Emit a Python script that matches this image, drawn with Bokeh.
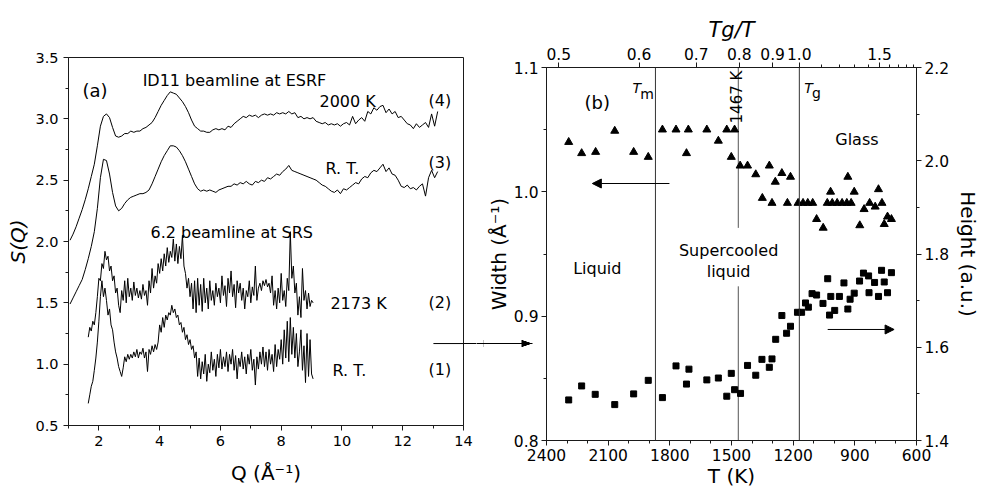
from bokeh.plotting import figure
from bokeh.models import (Range1d, LinearAxis, FixedTicker, CustomJSTickFormatter,
                          NumeralTickFormatter, Label, Arrow, NormalHead, Span)
from bokeh.layouts import row, column
from bokeh.embed import file_html
from bokeh.resources import INLINE

FONT = "DejaVu Sans"
INK = "#1a1a1a"

# ---------------- panel (a): S(Q) ----------------
q_esrf = [1.05, 1.15, 1.25, 1.35, 1.45, 1.55, 1.65, 1.75, 1.85, 1.95,
          2.05, 2.15, 2.25, 2.35, 2.45, 2.55, 2.65, 2.75, 2.85, 2.95,
          3.05, 3.15, 3.25, 3.35, 3.45, 3.55, 3.65, 3.75, 3.85, 3.95,
          4.05, 4.15, 4.25, 4.35, 4.45, 4.55, 4.65, 4.75, 4.85, 4.95,
          5.05, 5.15, 5.25, 5.35, 5.45, 5.55, 5.65, 5.75, 5.85, 5.95,
          6.05, 6.15, 6.25, 6.35, 6.45, 6.55, 6.65, 6.75, 6.85, 6.95,
          7.05, 7.15, 7.25, 7.35, 7.45, 7.55, 7.65, 7.75, 7.85, 7.95,
          8.05, 8.15, 8.25, 8.35, 8.45, 8.55, 8.65, 8.75, 8.85, 8.95,
          9.05, 9.15, 9.25, 9.35, 9.45, 9.55, 9.65, 9.75, 9.85, 9.95,
          10.05, 10.15, 10.25, 10.35, 10.45, 10.55, 10.65, 10.75, 10.85, 10.95,
          11.05, 11.15, 11.25, 11.35, 11.45, 11.55, 11.65, 11.75, 11.85, 11.95,
          12.05, 12.15, 12.25, 12.35, 12.45, 12.55, 12.65, 12.75, 12.85, 12.95,
          13.05, 13.15]

s_esrf_2000K = [2.01, 2.06, 2.12, 2.19, 2.26, 2.34, 2.43, 2.53, 2.63, 2.78,
                2.94, 3.02, 3.04, 3.01, 2.93, 2.86, 2.85, 2.86, 2.88, 2.88,
                2.90, 2.89, 2.90, 2.90, 2.92, 2.93, 2.95, 2.97, 3.01, 3.06,
                3.11, 3.15, 3.19, 3.22, 3.21, 3.20, 3.17, 3.14, 3.10, 3.05,
                2.99, 2.94, 2.92, 2.90, 2.90, 2.89, 2.89, 2.91, 2.92, 2.91,
                2.92, 2.91, 2.94, 2.93, 2.96, 2.98, 3.00, 3.02, 3.01, 3.03,
                3.02, 3.03, 3.01, 3.03, 3.04, 3.03, 3.04, 3.03, 3.05, 3.04,
                3.05, 3.04, 3.06, 3.04, 3.05, 3.01, 3.02, 3.00, 3.01, 3.00,
                3.01, 2.98, 2.97, 2.96, 2.97, 2.95, 2.96, 2.95, 2.96, 2.94,
                2.96, 2.97, 2.95, 3.02, 2.96, 2.99, 3.01, 2.98, 3.06, 3.04,
                3.09, 3.07, 3.10, 3.11, 3.05, 3.08, 3.04, 3.06, 3.01, 3.02,
                2.99, 2.96, 2.95, 2.92, 2.96, 2.93, 2.95, 2.97, 2.93, 3.04,
                2.94, 3.06]

s_esrf_rt = [1.49, 1.54, 1.59, 1.64, 1.69, 1.77, 1.86, 1.96, 2.08, 2.27,
             2.52, 2.67, 2.66, 2.55, 2.40, 2.29, 2.25, 2.27, 2.31, 2.34,
             2.36, 2.37, 2.38, 2.39, 2.39, 2.40, 2.42, 2.47, 2.53, 2.59,
             2.65, 2.70, 2.74, 2.78, 2.78, 2.77, 2.74, 2.70, 2.65, 2.59,
             2.53, 2.47, 2.43, 2.41, 2.42, 2.41, 2.42, 2.41, 2.40, 2.42,
             2.43, 2.44, 2.45, 2.45, 2.47, 2.46, 2.48, 2.47, 2.49, 2.47,
             2.46, 2.49, 2.48, 2.50, 2.49, 2.52, 2.51, 2.53, 2.55, 2.54,
             2.57, 2.59, 2.62, 2.58, 2.57, 2.56, 2.55, 2.54, 2.53, 2.52,
             2.51, 2.50, 2.48, 2.46, 2.45, 2.43, 2.41, 2.40, 2.42, 2.39,
             2.43, 2.42, 2.44, 2.46, 2.48, 2.47, 2.51, 2.53, 2.52, 2.56,
             2.58, 2.57, 2.60, 2.63, 2.57, 2.60, 2.55, 2.54, 2.50, 2.45,
             2.44, 2.46, 2.43, 2.44, 2.42, 2.45, 2.47, 2.37, 2.52, 2.58,
             2.52, 2.57]

q_srs = [1.65, 1.70, 1.75, 1.80, 1.85, 1.90, 1.95, 2.00, 2.05, 2.10,
         2.15, 2.20, 2.25, 2.30, 2.35, 2.40, 2.45, 2.50, 2.55, 2.60,
         2.65, 2.70, 2.75, 2.80, 2.85, 2.90, 2.95, 3.00, 3.05, 3.10,
         3.15, 3.20, 3.25, 3.30, 3.35, 3.40, 3.45, 3.50, 3.55, 3.60,
         3.65, 3.70, 3.75, 3.80, 3.85, 3.90, 3.95, 4.00, 4.05, 4.10,
         4.15, 4.20, 4.25, 4.30, 4.35, 4.40, 4.45, 4.50, 4.55, 4.60,
         4.65, 4.70, 4.75, 4.80, 4.85, 4.90, 4.95, 5.00, 5.05, 5.10,
         5.15, 5.20, 5.25, 5.30, 5.35, 5.40, 5.45, 5.50, 5.55, 5.60,
         5.65, 5.70, 5.75, 5.80, 5.85, 5.90, 5.95, 6.00, 6.05, 6.10,
         6.15, 6.20, 6.25, 6.30, 6.35, 6.40, 6.45, 6.50, 6.55, 6.60,
         6.65, 6.70, 6.75, 6.80, 6.85, 6.90, 6.95, 7.00, 7.05, 7.10,
         7.15, 7.20, 7.25, 7.30, 7.35, 7.40, 7.45, 7.50, 7.55, 7.60,
         7.65, 7.70, 7.75, 7.80, 7.85, 7.90, 7.95, 8.00, 8.05, 8.10,
         8.15, 8.20, 8.25, 8.30, 8.35, 8.40, 8.45, 8.50, 8.55, 8.60,
         8.65, 8.70, 8.75, 8.80, 8.85, 8.90, 8.95, 9.00, 9.05]

s_srs_2173K = [1.22, 1.30, 1.27, 1.35, 1.32, 1.42, 1.55, 1.70, 1.68, 1.82,
               1.78, 1.92, 1.85, 1.88, 1.76, 1.80, 1.68, 1.72, 1.58, 1.62,
               1.48, 1.42, 1.60, 1.52, 1.68, 1.50, 1.70, 1.55, 1.62, 1.52,
               1.67, 1.56, 1.62, 1.54, 1.60, 1.53, 1.65, 1.56, 1.60, 1.48,
               1.68, 1.58, 1.78, 1.62, 1.72, 1.66, 1.82, 1.74, 1.86, 1.76,
               1.90, 1.80, 1.95, 1.83, 1.92, 1.87, 2.02, 1.84, 1.98, 1.82,
               1.96, 1.86, 2.05, 1.80, 1.74, 1.62, 1.70, 1.55, 1.66, 1.45,
               1.68, 1.42, 1.70, 1.48, 1.65, 1.43, 1.70, 1.50, 1.62, 1.45,
               1.68, 1.52, 1.60, 1.48, 1.66, 1.55, 1.62, 1.50, 1.72, 1.56,
               1.64, 1.47, 1.70, 1.58, 1.76, 1.55, 1.65, 1.46, 1.68, 1.58,
               1.66, 1.52, 1.62, 1.45, 1.60, 1.55, 1.68, 1.50, 1.63, 1.56,
               1.80, 1.52, 1.62, 1.66, 1.60, 1.68, 1.64, 1.69, 1.63, 1.66,
               1.58, 1.72, 1.48, 1.60, 1.45, 1.62, 1.50, 1.74, 1.52, 1.60,
               1.47, 1.70, 1.60, 2.08, 1.70, 1.80, 1.58, 1.66, 1.40, 1.55,
               1.38, 1.78, 1.52, 1.60, 1.45, 1.58, 1.47, 1.52, 1.50]

s_srs_rt = [0.68, 0.75, 0.82, 0.86, 0.95, 1.05, 1.18, 1.35, 1.55, 1.68,
            1.55, 1.62, 1.52, 1.40, 1.45, 1.32, 1.28, 1.18, 1.10, 1.05,
            0.98, 0.94, 0.90, 0.97, 1.06, 1.02, 1.08, 1.04, 1.08, 1.05,
            1.10, 1.06, 1.12, 1.05, 1.10, 1.08, 1.13, 1.05, 1.10, 0.94,
            1.12, 1.08, 1.15, 1.10, 1.16, 1.12, 1.18, 1.32, 1.26, 1.38,
            1.30, 1.40, 1.36, 1.42, 1.40, 1.48, 1.42, 1.45, 1.38, 1.40,
            1.32, 1.34, 1.26, 1.30, 1.20, 1.24, 1.16, 1.20, 1.12, 1.15,
            1.05, 1.10, 0.90, 1.05, 0.88, 1.02, 0.92, 1.08, 0.86, 1.00,
            0.93, 1.10, 0.95, 1.04, 0.90, 1.08, 0.97, 1.12, 0.96, 1.06,
            0.98, 1.10, 0.94, 1.08, 1.00, 1.12, 0.95, 1.07, 0.88, 1.05,
            0.98, 1.10, 0.96, 1.06, 0.92, 1.08, 1.00, 1.12, 0.95, 1.04,
            0.83, 1.06, 0.96, 1.10, 1.00, 1.14, 0.98, 1.10, 0.95, 1.12,
            1.00, 1.08, 0.94, 1.16, 0.98, 1.12, 1.04, 1.20, 1.00, 1.28,
            1.05, 1.35, 1.02, 1.38, 1.08, 1.30, 1.05, 1.25, 0.98, 1.10,
            1.28, 0.95, 1.15, 0.85, 1.25, 0.90, 1.20, 0.92, 0.88]

qa_major = [2, 4, 6, 8, 10, 12, 14]
qa_minor = [1, 3, 5, 7, 9, 11, 13]
sa_major = [0.5, 1.0, 1.5, 2.0, 2.5, 3.0, 3.5]
sa_minor = [0.75, 1.25, 1.75, 2.25, 2.75, 3.25]

# ---------------- panel (b): peak width / height vs T ----------------
T_width = [2292, 2229, 2161, 2068, 1976, 1905, 1836, 1770, 1710, 1719,
           1620, 1564, 1523, 1485, 1501, 1458, 1422, 1382, 1316, 1255,
           1287, 1213, 1350, 1303, 1228, 1176, 1152, 1129, 1105, 1086,
           1054, 1034, 1010, 986, 962, 939, 918, 1018, 934, 903,
           876, 855, 828, 801, 785, 768, 757, 741, 722]
width = [1.040, 1.031, 1.032, 1.049, 1.032, 1.028, 1.050, 1.050, 1.050, 1.031,
         1.050, 1.041, 1.050, 1.050, 1.028, 1.021, 1.021, 1.014, 1.021, 1.015,
         1.008, 1.012, 0.995, 0.991, 0.991, 0.991, 0.991, 0.991, 0.991, 0.978,
         0.971, 0.991, 0.991, 0.991, 0.991, 0.991, 0.991, 1.000, 1.012, 1.000,
         0.973, 0.986, 0.991, 0.988, 1.002, 0.991, 0.974, 0.980, 0.978]

T_height = [2292, 2229, 2163, 2068, 1976, 1905, 1836, 1770, 1719, 1707,
            1620, 1564, 1523, 1501, 1485, 1456, 1422, 1382, 1352, 1316,
            1303, 1285, 1255, 1232, 1213, 1179, 1159, 1140, 1126, 1108,
            1086, 1055, 1032, 1023, 1017, 998, 975, 953, 934, 923,
            903, 877, 858, 833, 831, 804, 785, 770, 757, 741, 722]
height = [1.487, 1.517, 1.499, 1.477, 1.500, 1.529, 1.492, 1.560, 1.521, 1.553,
          1.530, 1.534, 1.495, 1.544, 1.509, 1.501, 1.561, 1.540, 1.574, 1.557,
          1.575, 1.617, 1.668, 1.630, 1.645, 1.675, 1.675, 1.695, 1.686, 1.715,
          1.712, 1.694, 1.747, 1.669, 1.709, 1.679, 1.709, 1.738, 1.682, 1.703,
          1.716, 1.742, 1.759, 1.753, 1.717, 1.739, 1.709, 1.765, 1.740, 1.717,
          1.760]

T_melt = 1870
T_mid = 1467
T_glass = 1170
T_major = [2400, 2100, 1800, 1500, 1200, 900, 600]
T_minor = [2300, 2200, 2000, 1900, 1700, 1600, 1400, 1300, 1100, 1000, 800, 700]
w_major = [0.8, 0.9, 1.0, 1.1]
w_minor = [0.85, 0.95, 1.05]
h_major = [1.4, 1.6, 1.8, 2.0, 2.2]
h_minor = [1.5, 1.7, 1.9, 2.1]
tgt_major = [0.5, 0.6, 0.7, 0.8, 0.9, 1.0, 1.5]
tgt_minor = [1.1, 1.2, 1.3, 1.4, 1.6, 1.7, 1.8, 1.9]


def style_axis(ax, size):
    ax.major_tick_in = 0
    ax.major_tick_out = 5
    ax.minor_tick_in = 0
    ax.minor_tick_out = 3
    ax.axis_line_color = INK
    ax.major_tick_line_color = INK
    ax.minor_tick_line_color = INK
    ax.major_label_text_font = FONT
    ax.major_label_text_font_size = size
    ax.major_label_text_color = "black"
    ax.axis_label_text_font = FONT
    ax.axis_label_text_font_size = "20px"
    ax.axis_label_text_font_style = "normal"
    ax.axis_label_text_color = "black"


def lab(p, x, y, text, size="16px", align="left", baseline="alphabetic",
        angle=0.0, style="normal"):
    p.add_layout(Label(x=x, y=y, text=text, text_font=FONT, text_font_size=size,
                       text_align=align, text_baseline=baseline, angle=angle,
                       text_font_style=style, text_color="black"))


def connector_axis(ticks, tick_in, tick_out, color="black", width=1):
    # unlabeled axis whose long ticks draw the connecting arrow between panels
    return LinearAxis(ticker=FixedTicker(ticks=ticks),
                      formatter=CustomJSTickFormatter(code="return '';"),
                      axis_line_color=None, major_tick_line_color=color,
                      major_tick_line_width=width,
                      major_tick_in=tick_in, major_tick_out=tick_out,
                      minor_tick_in=0, minor_tick_out=0, major_label_standoff=0)


# ---------- figure (a) ----------
pa = figure(width=476, height=491, x_range=Range1d(1, 14), y_range=Range1d(0.5, 3.5),
            output_backend="svg", toolbar_location=None,
            min_border_left=68, min_border_right=13, min_border_top=57,
            min_border_bottom=66)
pa.grid.visible = False
pa.outline_line_color = INK
pa.outline_line_alpha = 1.0
pa.xaxis.ticker = FixedTicker(ticks=qa_major, minor_ticks=qa_minor)
pa.yaxis.ticker = FixedTicker(ticks=sa_major, minor_ticks=sa_minor)
pa.yaxis.formatter = NumeralTickFormatter(format="0.0")
for ax in pa.axis:
    style_axis(ax, "14.5px")
    ax.major_label_standoff = 5
pa.yaxis.axis_label = "S(Q)"
pa.yaxis.axis_label_text_font_style = "italic"
pa.yaxis.axis_label_standoff = 2
pa.xaxis.axis_label = "Q (Å⁻¹)"
pa.xaxis.axis_label_standoff = 12

for s in (s_esrf_2000K, s_esrf_rt):
    pa.line(q_esrf, s, line_color="black", line_width=1)
for s in (s_srs_2173K, s_srs_rt):
    pa.line(q_srs, s, line_color="black", line_width=1)

lab(pa, 1.46, 3.231, "(a)", size="18px")
lab(pa, 3.44, 3.312, "ID11 beamline at ESRF")
lab(pa, 9.26, 3.141, "2000 K")
lab(pa, 12.85, 3.149, "(4)")
lab(pa, 9.46, 2.595, "R. T.")
lab(pa, 12.85, 2.644, "(3)")
lab(pa, 3.70, 2.073, "6.2 beamline at SRS")
lab(pa, 9.62, 1.495, "2173 K")
lab(pa, 12.85, 1.503, "(2)")
lab(pa, 9.69, 0.948, "R. T.")
lab(pa, 12.85, 0.957, "(1)")

# connecting arrow: part inside frame (a), then long ticks across the gap
pa.segment(x0=[13.01], y0=[1.168], x1=[14.0], y1=[1.168], line_color="black", line_width=1)
pa.add_layout(connector_axis([1.168], 0, 13), "right")

# ---------- figure (b) ----------
pb = figure(width=507, height=491, x_range=Range1d(2400, 600), y_range=Range1d(0.8, 1.1),
            output_backend="svg", toolbar_location=None,
            min_border_left=63, min_border_right=65, min_border_top=67,
            min_border_bottom=51)
pb.grid.visible = False
pb.outline_line_color = INK
pb.outline_line_alpha = 1.0
pb.extra_y_ranges = {"h": Range1d(1.4, 2.2)}
pb.xaxis.ticker = FixedTicker(ticks=T_major, minor_ticks=T_minor)
pb.yaxis.ticker = FixedTicker(ticks=w_major, minor_ticks=w_minor)
pb.yaxis.formatter = NumeralTickFormatter(format="0.0")
right_ax = LinearAxis(y_range_name="h", ticker=FixedTicker(ticks=h_major, minor_ticks=h_minor),
                      formatter=NumeralTickFormatter(format="0.0"))
pb.add_layout(right_ax, "right")
top_ax = LinearAxis(
    ticker=FixedTicker(ticks=[T_glass / v for v in tgt_major],
                       minor_ticks=[T_glass / v for v in tgt_minor]),
    formatter=CustomJSTickFormatter(args=dict(tg=T_glass),
                                    code="return (tg / tick).toFixed(1);"))
pb.add_layout(top_ax, "above")
for ax in pb.axis:
    style_axis(ax, "15.5px")
    ax.major_label_standoff = 3
pb.yaxis.axis_label = "Width (Å⁻¹)"
pb.yaxis.axis_label_standoff = 0
right_ax.axis_label = "Height (a.u.)"
right_ax.axis_label_standoff = 4
pb.xaxis.axis_label = "T (K)"
pb.xaxis.axis_label_standoff = 0
top_ax.axis_label = "Tg/T"
top_ax.axis_label_text_font_style = "italic"
top_ax.axis_label_text_font_size = "21px"
top_ax.axis_label_standoff = 3

# arrow into panel (b): a head built from short ticks, a white mask, then the shaft
y0 = 0.878
px = 0.3 / 373.0
pb.add_layout(connector_axis([y0 + px, y0 - px], 46, 0), "left")
pb.add_layout(connector_axis([y0 + 2 * px, y0 - 2 * px], 43, 0), "left")
pb.add_layout(connector_axis([y0 + 3 * px, y0 - 3 * px], 40, 0), "left")
pb.add_layout(connector_axis([y0 + k * px for k in (-3.5, -3, -2, -1, 1, 2, 3, 3.5)], 38, 0,
                             color="white", width=1.5), "left")
pb.add_layout(connector_axis([y0], 49, 7), "left")

pb.add_layout(Span(location=T_melt, dimension="height", line_color="#333333", line_width=1))
pb.add_layout(Span(location=T_glass, dimension="height", line_color="#333333", line_width=1))
pb.segment(x0=[T_mid, T_mid], y0=[1.1, 0.924], x1=[T_mid, T_mid], y1=[0.971, 0.8],
           line_color="#555555", line_width=1)

pb.scatter(T_width, width, marker="triangle", size=8, color="black")
pb.scatter(T_height, height, marker="square", size=6, color="black", y_range_name="h")

head = dict(size=9, fill_color="black", line_color="black")
pb.add_layout(Arrow(end=NormalHead(**head), x_start=1802, y_start=1.0067,
                    x_end=2177, y_end=1.0067, line_color="black", line_width=1))
pb.add_layout(Arrow(end=NormalHead(**head), x_start=1032, y_start=0.8893,
                    x_end=709, y_end=0.8893, line_color="black", line_width=1))

lab(pb, 2215, 1.0719, "(b)", size="18px")
lab(pb, 1982, 1.0839, "T", size="14px", style="italic")
lab(pb, 1944, 1.0783, "m", size="14px")
lab(pb, 1146, 1.0839, "T", size="14px", style="italic")
lab(pb, 1108, 1.0791, "g", size="14px")
lab(pb, 1474, 1.055, "1467 K", size="15px", angle=1.5708)
lab(pb, 890, 1.0421, "Glass", align="center")
lab(pb, 2153, 0.9383, "Liquid", align="center")
lab(pb, 1514, 0.9528, "Supercooled", align="center")
lab(pb, 1514, 0.9359, "liquid", align="center")

layout = row(column(pa), column(pb))
open("out.html", "w").write(file_html(layout, INLINE))
